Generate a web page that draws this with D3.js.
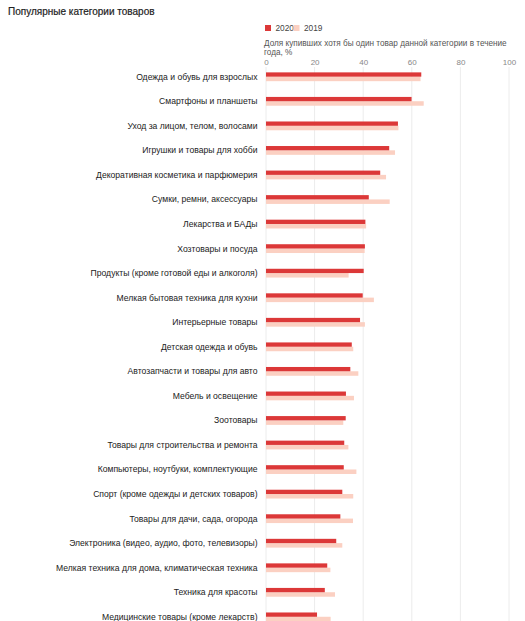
<!DOCTYPE html>
<html>
<head>
<meta charset="utf-8">
<script src="https://cdn.jsdelivr.net/npm/d3@7"></script>
<style>
  body { margin: 0; background: #fff; }
  svg { font-family: "Liberation Sans", Arial, sans-serif; display: block; }
</style>
</head>
<body>
<div id="chart"></div>
<script>
// data
const categories = [
    "Одежда и обувь для взрослых",
    "Смартфоны и планшеты",
    "Уход за лицом, телом, волосами",
    "Игрушки и товары для хобби",
    "Декоративная косметика и парфюмерия",
    "Сумки, ремни, аксессуары",
    "Лекарства и БАДы",
    "Хозтовары и посуда",
    "Продукты (кроме готовой еды и алкоголя)",
    "Мелкая бытовая техника для кухни",
    "Интерьерные товары",
    "Детская одежда и обувь",
    "Автозапчасти и товары для авто",
    "Мебель и освещение",
    "Зоотовары",
    "Товары для строительства и ремонта",
    "Компьютеры, ноутбуки, комплектующие",
    "Спорт (кроме одежды и детских товаров)",
    "Товары для дачи, сада, огорода",
    "Электроника (видео, аудио, фото, телевизоры)",
    "Мелкая техника для дома, климатическая техника",
    "Техника для красоты",
    "Медицинские товары (кроме лекарств)"
];
const values2020 = [63.9, 59.9, 54.3, 50.7, 47.0, 42.3, 40.9, 40.7, 40.2, 39.8, 38.7, 35.3,
    34.7, 32.9, 32.8, 32.2, 32.0, 31.4, 30.6, 28.9, 25.2, 24.2, 21.0];
const values2019 = [63.6, 64.9, 54.5, 53.1, 49.4, 50.9, 41.2, 40.6, 34.0, 44.4, 40.7, 35.9,
    38.0, 36.2, 31.8, 33.9, 37.2, 35.9, 35.8, 31.4, 26.5, 28.4, 26.6];
const seriesNames = ["2020", "2019"];
const xTicks = [0, 20, 40, 60, 80, 100];

const colors = {"2020": "#dc3838", "2019": "#fbd0c2"};

const width = 525, height = 621;
const plotLeft = 266, plotRight = 509;
const rowStep = 24.55, plotTop = 64.4;

const svg = d3.select("#chart")
    .append("svg")
    .attr("width", width)
    .attr("height", height);

const xScale = d3.scaleLinear()
    .domain([0, 100])
    .range([plotLeft, plotRight]);

const yScale = d3.scaleBand()
    .domain(categories)
    .range([plotTop, plotTop + rowStep * categories.length]);

// title
svg.append("text")
    .attr("x", 8)
    .attr("y", 15)
    .attr("font-size", 10)
    .attr("font-weight", 500)
    .attr("fill", "#222")
    .attr("stroke", "#222")
    .attr("stroke-width", 0.2)
    .text("Популярные категории товаров");

// legend
const legend = svg.append("g")
    .attr("transform", "translate(265,25)");

const legItem = legend.selectAll("g")
    .data(seriesNames)
    .join("g")
    .attr("transform", (d, i) => "translate(" + (i * 28.5) + ",0)");

legItem.append("rect")
    .attr("width", 6)
    .attr("height", 6)
    .attr("fill", d => colors[d]);

legItem.append("text")
    .attr("x", 10.5)
    .attr("y", 6)
    .attr("font-size", 8.3)
    .attr("fill", "#444")
    .text(d => d);

// axis title, two lines like the original
const axTitle = svg.append("text")
    .attr("font-size", 8.2)
    .attr("fill", "#555");
axTitle.append("tspan")
    .attr("x", 264).attr("y", 46)
    .text("Доля купивших хотя бы один товар данной категории в течение");
axTitle.append("tspan")
    .attr("x", 264).attr("y", 55)
    .text("года, %");

// x axis with gridlines
const xAxis = d3.axisTop(xScale)
    .tickValues(xTicks)
    .tickSize(0)
    .tickPadding(0);

const xAxGr = svg.append("g")
    .attr("transform", "translate(0,65)")
    .call(xAxis);
xAxGr.select(".domain").remove();
xAxGr.selectAll("text")
    .attr("font-family", "Liberation Sans, Arial, sans-serif")
    .attr("font-size", 8)
    .attr("fill", "#888");

svg.append("g")
    .selectAll("line")
    .data(xTicks)
    .join("line")
    .attr("x1", d => xScale(d))
    .attr("x2", d => xScale(d))
    .attr("y1", 67)
    .attr("y2", height)
    .attr("stroke", "#ececec")
    .attr("stroke-width", 1);

// rows
const rows = svg.append("g")
    .selectAll("g")
    .data(categories)
    .join("g")
    .attr("transform", d => "translate(0," + (yScale(d) + yScale.bandwidth() / 2) + ")");

rows.append("text")
    .attr("x", 257.5)
    .attr("y", 0)
    .attr("dy", "0.35em")
    .attr("text-anchor", "end")
    .attr("font-size", 8.6)
    .attr("fill", "#222")
    .text(d => d);

rows.append("rect")   // 2019 below
    .attr("x", xScale(0))
    .attr("y", 0)
    .attr("height", 4.5)
    .attr("width", (d, i) => xScale(values2019[i]) - xScale(0))
    .attr("fill", colors["2019"]);

rows.append("rect")   // 2020 on top
    .attr("x", xScale(0))
    .attr("y", -4.3)
    .attr("height", 4.3)
    .attr("width", (d, i) => xScale(values2020[i]) - xScale(0))
    .attr("fill", colors["2020"]);
</script>
</body>
</html>
